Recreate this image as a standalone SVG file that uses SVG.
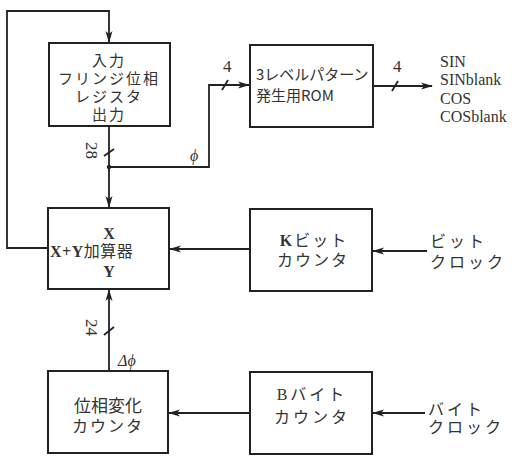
<svg xmlns="http://www.w3.org/2000/svg" width="521" height="457" viewBox="0 0 521 457">
<style>
.box{fill:#fff;stroke:#222;stroke-width:2}
.w{fill:none;stroke:#222;stroke-width:1.8}
.t{font-family:"Noto Sans CJK JP","Noto Sans",sans-serif;font-size:16px;fill:#333;text-anchor:middle}
.s{font-family:"Liberation Serif",serif;font-size:17px;fill:#333}
.i{font-family:"Liberation Serif",serif;font-size:16px;font-style:italic;fill:#333}
</style>
<defs>
<marker id="ah" viewBox="0 0 12 8" refX="11" refY="4" markerWidth="12" markerHeight="8" markerUnits="userSpaceOnUse" orient="auto">
<path d="M0,0.5 L12,4 L0,7.5 L3,4 Z" fill="#222"/>
</marker>
</defs>
<g id="connectors">
<path class="w" d="M48,248 H7 V11 H109 V42" marker-end="url(#ah)"/>
<path class="w" d="M109,126 V207" marker-end="url(#ah)"/>
<circle cx="109" cy="167" r="2.2" fill="#222"/>
<path class="w" d="M109,167 H209 V85 H249" marker-end="url(#ah)"/>
<path class="w" d="M373,86 H432" marker-end="url(#ah)"/>
<path class="w" d="M250,249 H170" marker-end="url(#ah)"/>
<path class="w" d="M427,251 H373" marker-end="url(#ah)"/>
<path class="w" d="M109,371 V290" marker-end="url(#ah)"/>
<path class="w" d="M250,413 H169" marker-end="url(#ah)"/>
<path class="w" d="M425,413 H373" marker-end="url(#ah)"/>
<path class="w" d="M104,156 L114,149"/>
<path class="w" d="M104,335 L114,327"/>
<path class="w" d="M222,90 L228,80"/>
<path class="w" d="M392,91 L398,81"/>
<text class="s" transform="translate(86,142) rotate(90)">28</text>
<text class="s" transform="translate(86,319) rotate(90)">24</text>
<text class="s" x="223" y="72">4</text>
<text class="s" x="393" y="72">4</text>
<text class="i" x="190" y="161">ϕ</text>
<text class="i" x="118" y="366">Δϕ</text>
</g>
<g id="register">
<rect class="box" x="49" y="43" width="121" height="83"/>
<text class="t" x="109" y="66" style="font-size:15px;letter-spacing:2px">入力</text>
<text class="t" x="109" y="84" style="font-size:15px;letter-spacing:2px">フリンジ位相</text>
<text class="t" x="109" y="102" style="font-size:15px;letter-spacing:2px">レジスタ</text>
<text class="t" x="109" y="120" style="font-size:15px;letter-spacing:2px">出力</text>
</g>
<g id="rom">
<rect class="box" x="250" y="45" width="123" height="82"/>
<text class="t" x="256" y="80" style="text-anchor:start;font-size:15px">3レベルパターン</text>
<text class="t" x="256" y="101" style="text-anchor:start;font-size:15px">発生用ROM</text>
</g>
<g id="outputs">
<text class="s" x="440" y="67" style="font-size:16px">SIN</text>
<text class="s" x="440" y="85" style="font-size:16px">SINblank</text>
<text class="s" x="440" y="104" style="font-size:16px">COS</text>
<text class="s" x="440" y="122" style="font-size:16px">COSblank</text>
</g>
<g id="adder">
<rect class="box" x="48" y="208" width="121" height="81"/>
<text class="s" x="109" y="239" text-anchor="middle" style="font-weight:bold;font-size:16px">X</text>
<text class="t" x="50" y="257" style="text-anchor:start;font-size:16px;letter-spacing:0.5px"><tspan style="font-family:'Liberation Serif',serif;font-weight:bold">X+Y</tspan>加算器</text>
<text class="s" x="109" y="277" text-anchor="middle" style="font-weight:bold;font-size:16px">Y</text>
</g>
<g id="kcounter">
<rect class="box" x="250" y="209" width="122" height="82"/>
<text class="t" x="314" y="246" style="letter-spacing:2px"><tspan style="font-family:'Liberation Serif',serif;font-weight:bold">K</tspan>ビット</text>
<text class="t" x="313" y="266" style="letter-spacing:2px">カウンタ</text>
</g>
<g id="bitclock">
<text class="t" x="430" y="247" style="text-anchor:start;letter-spacing:3px">ビット</text>
<text class="t" x="430" y="268" style="text-anchor:start;letter-spacing:3px">クロック</text>
</g>
<g id="phasecounter">
<rect class="box" x="48" y="371" width="120" height="82"/>
<text class="t" x="108" y="412" style="font-size:17px">位相変化</text>
<text class="t" x="108" y="432" style="letter-spacing:2px">カウンタ</text>
</g>
<g id="bcounter">
<rect class="box" x="250" y="372" width="122" height="82"/>
<text class="t" x="312" y="400" style="letter-spacing:3px"><tspan style="font-family:'Liberation Serif',serif">B</tspan>バイト</text>
<text class="t" x="312" y="423" style="letter-spacing:3px">カウンタ</text>
</g>
<g id="byteclock">
<text class="t" x="428" y="415" style="text-anchor:start;letter-spacing:3px">バイト</text>
<text class="t" x="428" y="433" style="text-anchor:start;letter-spacing:3px">クロック</text>
</g>
</svg>
